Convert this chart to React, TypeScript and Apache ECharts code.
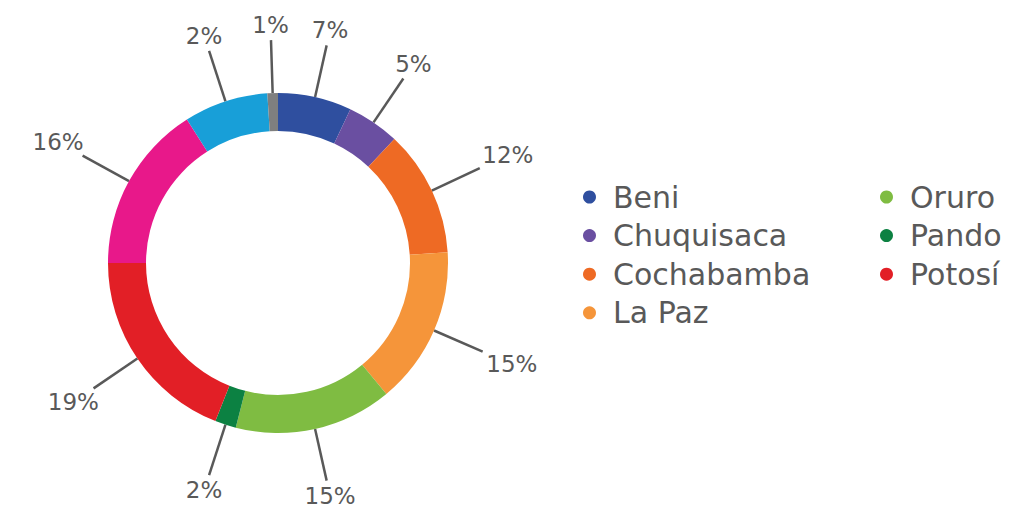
import { useEffect, useRef } from "react";
import * as echarts from "echarts";

const regions = ["Beni", "Chuquisaca", "Cochabamba", "La Paz", "Oruro", "Pando", "Potosí", "Santa Cruz", "Tarija", "Sin dato"];
const shares = [7, 5, 12, 15, 15, 2, 19, 16, 8, 1];
const labelTexts = ["7%", "5%", "12%", "15%", "15%", "2%", "19%", "16%", "2%", "1%"];
const colors = ["#2f4f9f", "#6a4fa1", "#ee6a24", "#f5953a", "#7fbc42", "#0c8142", "#e21f26", "#e8188a", "#189fd8", "#7f7f7f"];
const legendLeft = ["Beni", "Chuquisaca", "Cochabamba", "La Paz"];
const legendRight = ["Oruro", "Pando", "Potosí"];

const FONT = "'DejaVu Sans', sans-serif";
const TEXT = "#595959";

export default function App() {
  const ref = useRef<HTMLDivElement>(null);
  useEffect(() => {
    document.body.style.margin = "0";
    const chart = echarts.init(ref.current!, null, { renderer: "svg" });
    const legendCommon = {
      orient: "vertical",
      top: 182,
      padding: 0,
      itemWidth: 13,
      itemHeight: 13,
      itemGap: 8.6,
      icon: "circle",
      selectedMode: false,
      textStyle: { fontSize: 30, color: TEXT, fontFamily: FONT, padding: [0, 0, 0, 12], lineHeight: 30 },
    };
    chart.setOption({
      animation: false,
      color: colors,
      legend: [
        { ...legendCommon, left: 583, data: legendLeft },
        { ...legendCommon, left: 880, data: legendRight },
      ],
      series: [
        {
          type: "pie",
          center: [278, 263],
          radius: [132, 170],
          startAngle: 90,
          clockwise: true,
          avoidLabelOverlap: false,
          data: regions.map((n, i) => ({ name: n, value: shares[i] })),
          label: {
            show: true,
            position: "outside",
            formatter: (p: any) => labelTexts[p.dataIndex],
            fontSize: 23,
            color: TEXT,
            fontFamily: FONT,
          },
          labelLine: { show: true, length: 53, length2: 0, lineStyle: { color: "#595959", width: 2.5 } },
          labelLayout: (params: any) => {
            const pts = params.labelLinePoints;
            if (!pts || pts.length < 2) return {};
            const p0 = pts[0];
            const p1 = pts[pts.length - 1];
            const dx = p1[0] - p0[0];
            const dy = p1[1] - p0[1];
            const len = Math.sqrt(dx * dx + dy * dy) || 1;
            const ux = dx / len;
            const uy = dy / len;
            const w = params.labelRect.width / 2;
            const h = params.labelRect.height / 2;
            const kx = Math.abs(ux) > 1e-3 ? w / Math.abs(ux) : Infinity;
            const ky = Math.abs(uy) > 1e-3 ? h / Math.abs(uy) : Infinity;
            const k = Math.min(kx, ky) + 4;
            return {
              x: p1[0] + ux * k,
              y: p1[1] + uy * k,
              align: "center",
              verticalAlign: "middle",
              labelLinePoints: pts,
            };
          },
          emphasis: { disabled: true },
        },
      ],
    });
    return () => chart.dispose();
  }, []);
  return <div ref={ref} style={{ width: 1036, height: 510 }} />;
}
